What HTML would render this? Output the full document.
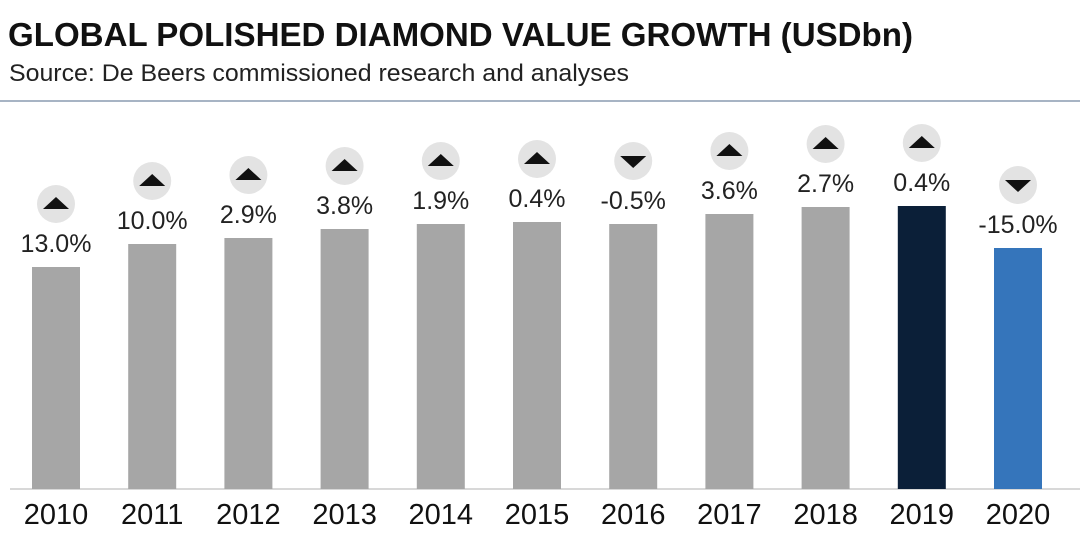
<!DOCTYPE html>
<html><head><meta charset="utf-8"><style>
body{margin:0;background:#fff;width:1080px;height:557px;overflow:hidden}
svg{display:block}
text{font-family:"Liberation Sans","DejaVu Sans",sans-serif}
</style></head><body>
<svg width="1080" height="557" viewBox="0 0 1080 557" xmlns="http://www.w3.org/2000/svg">
<text x="8" y="46" font-size="33" font-weight="bold" fill="#111" textLength="905" lengthAdjust="spacingAndGlyphs">GLOBAL POLISHED DIAMOND VALUE GROWTH (USDbn)</text>
<text x="9" y="81" font-size="24" fill="#222" textLength="620" lengthAdjust="spacingAndGlyphs">Source: De Beers commissioned research and analyses</text>
<line x1="0" y1="101" x2="1080" y2="101" stroke="#8a9bb0" stroke-width="1.5"/>
<line x1="10" y1="489" x2="1080" y2="489" stroke="#ccc" stroke-width="1.5"/>
<g id="bars"></g>
</svg>
<script>
const d=[["2010",267,"13.0%",1],["2011",244,"10.0%",1],["2012",238,"2.9%",1],["2013",229,"3.8%",1],["2014",224,"1.9%",1],["2015",222,"0.4%",1],["2016",224,"-0.5%",0],["2017",214,"3.6%",1],["2018",207,"2.7%",1],["2019",206,"0.4%",1],["2020",248,"-15.0%",0]];
let s="";
d.forEach((r,i)=>{const x=32+i*96.2,c=x+24;
const col=i==9?"#0b1f38":i==10?"#3575bb":"#a6a6a6";
s+=`<rect x="${x}" y="${r[1]}" width="48" height="${489-r[1]}" fill="${col}"/>`;
s+=`<text x="${c}" y="${r[1]-15}" font-size="25" fill="#222" text-anchor="middle">${r[2]}</text>`;
const cy=r[1]-63;
s+=`<circle cx="${c}" cy="${cy}" r="19" fill="#e3e3e3"/>`;
if(r[3]) s+=`<polygon points="${c-13},${cy+5} ${c+13},${cy+5} ${c},${cy-7}" fill="#111"/>`;
else s+=`<polygon points="${c-13},${cy-5} ${c+13},${cy-5} ${c},${cy+7}" fill="#111"/>`;
s+=`<text x="${c}" y="524" font-size="29" fill="#111" text-anchor="middle">${r[0]}</text>`;
});
document.getElementById("bars").innerHTML=s;
</script>
</body></html>
